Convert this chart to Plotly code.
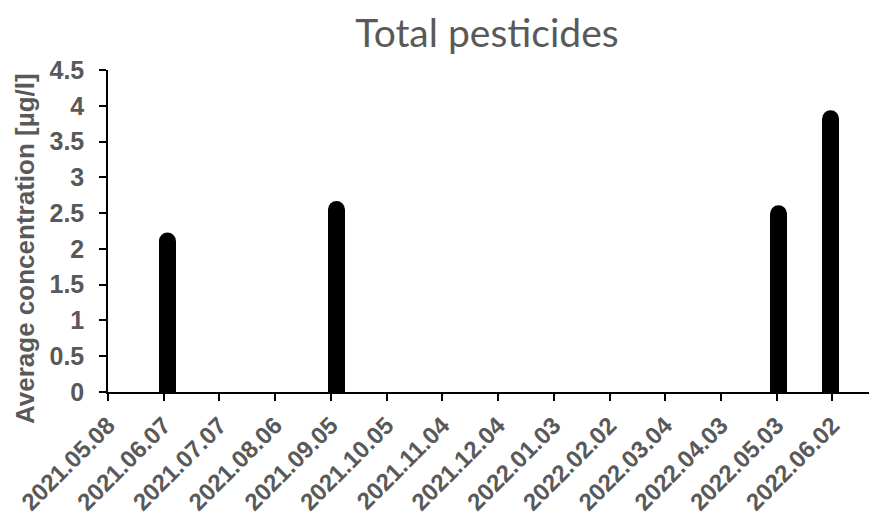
"""Total pesticides - average concentration per sampling date."""

import plotly.graph_objects as go

sample_dates = ["2021-06-09", "2021-09-08", "2022-05-04", "2022-06-01"]
concentration = [2.11, 2.55, 2.49, 3.82]

x_start = "2021-05-08"
x_end = "2022-06-26"
tick_step_days = 30

GREY = "#595959"
DAY_MS = 86400000
BAR_WIDTH = 9.2 * DAY_MS

# the page body keeps its default 8px margin, so the figure is a bit smaller
W, H = 869, 510

fig = go.Figure()
fig.add_bar(
    x=sample_dates,
    y=concentration,
    width=[BAR_WIDTH] * len(sample_dates),
    marker=dict(color="black", line=dict(width=0)),
    showlegend=False,
)
# rounded tops of the thick lines
fig.add_scatter(
    x=sample_dates,
    y=concentration,
    mode="markers",
    marker=dict(color="black", size=17, symbol="circle", line=dict(width=0)),
    showlegend=False,
)

tick_font = dict(family="Liberation Sans", size=25, color=GREY, weight="bold")
xtick_font = dict(tick_font, size=24)
label_font = dict(tick_font, size=26)

fig.update_layout(
    width=W,
    height=H,
    margin=dict(l=100, r=0, t=62, b=126),
    paper_bgcolor="white",
    plot_bgcolor="white",
    bargap=0,
    title=dict(
        text="Total pesticides",
        font=dict(family="Lato", size=39, color=GREY),
        x=479 / W,
        xanchor="center",
        xref="container",
        yref="container",
        y=1 - 25 / H,
        yanchor="middle",
    ),
    annotations=[
        dict(
            text="Average concentration [µg/l]",
            xref="paper",
            yref="paper",
            x=(25 - 108) / 769,
            y=(392 - 249) / 322,
            xanchor="center",
            yanchor="middle",
            textangle=-90,
            showarrow=False,
            font=label_font,
        )
    ],
)

fig.update_xaxes(
    type="date",
    range=[x_start, x_end],
    tick0=x_start,
    dtick=tick_step_days * DAY_MS,
    tickformat="%Y.%m.%d",
    tickangle=-45,
    tickfont=xtick_font,
    ticklabelstandoff=1,
    automargin=False,
    showline=True,
    linecolor="black",
    linewidth=1.5,
    ticks="outside",
    ticklen=7,
    tickwidth=1.5,
    tickcolor="black",
    showgrid=False,
    zeroline=False,
)
fig.update_yaxes(
    range=[0, 4.5],
    dtick=0.5,
    tickfont=tick_font,
    automargin=False,
    showline=True,
    linecolor="black",
    linewidth=1.5,
    ticks="outside",
    ticklen=7,
    tickwidth=1.5,
    tickcolor="black",
    ticklabelstandoff=10,
    showgrid=False,
    zeroline=False,
)

fig.write_html("out.html")
